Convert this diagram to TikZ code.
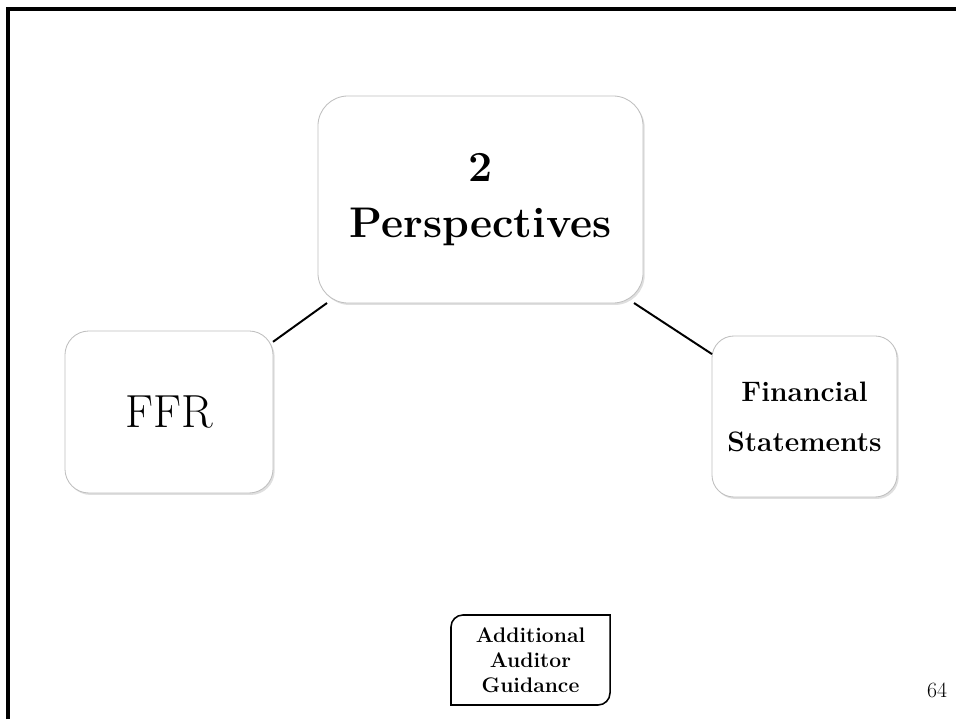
\documentclass[tikz,border=0pt]{standalone}
\usetikzlibrary{shadows}

\begin{document}
\begin{tikzpicture}[x=0.025cm, y=0.025cm,
    softbox/.style={draw=black!25, line width=0.6pt, fill=white, align=center,
      inner sep=0pt, outer sep=0pt,
      drop shadow={opacity=0.25, shadow xshift=1.2pt, shadow yshift=-1.4pt}},
    link/.style={line width=1.4pt}]
  \useasboundingbox (0,0) rectangle (956,719);
  % page frame
  \draw[line width=2.2pt] (8,0) -- (8,710) -- (956,710);

  \node[softbox, rounded corners=0.75cm, minimum width=8.125cm, minimum height=5.175cm,
    font=\fontsize{30.5}{40}\selectfont\bfseries] (persp) at (480.5,519.5) {2\\Perspectives};
  \node[softbox, rounded corners=0.6cm, minimum width=5.2cm, minimum height=4.05cm,
    font=\fontsize{33}{42}\selectfont] (ffr) at (169,307) {FFR};
  \node[softbox, rounded corners=0.55cm, minimum width=4.625cm, minimum height=4.025cm,
    font=\fontsize{20}{35.6}\selectfont\bfseries] (fin) at (804.5,302.5) {Financial\\Statements};

  \draw[link] (ffr.34) -- (persp.214);
  \draw[link] (persp.326) -- (fin.146);

  % guidance tab
  \node[align=center, inner sep=0pt, outer sep=0pt, minimum width=3.975cm, minimum height=2.25cm,
    font=\fontsize{15}{17.8}\selectfont\bfseries] (guide) at (530.5,59) {Additional\\Auditor\\Guidance};
  \draw[line width=1.1pt] ([xshift=0.3cm]guide.north west) -- (guide.north east)
    -- ([yshift=0.3cm]guide.south east) arc[start angle=0, end angle=-90, radius=0.3cm]
    -- (guide.south west) -- ([yshift=-0.3cm]guide.north west)
    arc[start angle=180, end angle=90, radius=0.3cm] -- cycle;

  \node[font=\fontsize{15.5}{18}\selectfont] (page) at (937,29) {64};
\end{tikzpicture}
\end{document}
